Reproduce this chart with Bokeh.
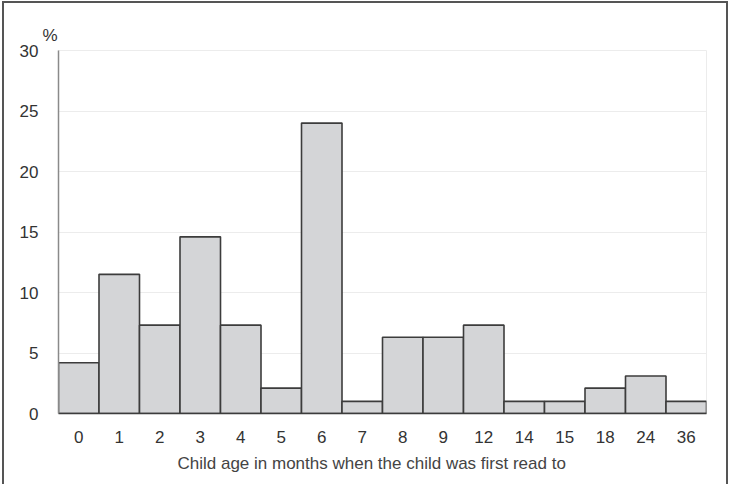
from bokeh.plotting import figure
from bokeh.models import FactorRange, Range1d, ColumnDataSource, FixedTicker, Title
from bokeh.embed import file_html
from bokeh.resources import INLINE

# Age (months) when the child was first read to, and share of children (%)
ages = ["0", "1", "2", "3", "4", "5", "6", "7", "8", "9", "12", "14", "15", "18", "24", "36"]
shares = [4.2, 11.5, 7.3, 14.6, 7.3, 2.1, 24.0, 1.0, 6.3, 6.3, 7.3, 1.0, 1.0, 2.1, 3.1, 1.0]
y_ticks = [0, 5, 10, 15, 20, 25, 30]
y_unit = "%"
x_title = "Child age in months when the child was first read to"

FONT = "Liberation Sans"
FS = "17px"

source = ColumnDataSource(data=dict(age=ages, share=shares))

p = figure(
    width=726, height=483,
    x_range=FactorRange(*ages, range_padding=0),
    y_range=Range1d(0, 30),
    output_backend="svg", toolbar_location=None,
    min_border_left=54, min_border_right=24,
    min_border_top=47, min_border_bottom=73,
)
p.styles = {
    "margin": "1px 0 0 2px",
    "border-left": "2px solid #555555",
    "border-right": "2px solid #555555",
    "border-top": "2px solid #555555",
}

p.vbar(x="age", top="share", width=1.0, source=source,
       fill_color="#d4d5d7", line_color="#3c3c3c", line_width=1.6)

# axes
p.yaxis.ticker = FixedTicker(ticks=y_ticks)
p.yaxis.axis_line_color = "#8a8a8a"
p.yaxis.axis_line_width = 1.5
p.xaxis.axis_line_color = "#3c3c3c"
p.xaxis.axis_line_width = 1.6
for ax in (p.xaxis, p.yaxis):
    ax.major_tick_line_color = None
    ax.minor_tick_line_color = None
    ax.major_label_text_font = FONT
    ax.major_label_text_font_size = FS
    ax.major_label_text_color = "#333333"
p.yaxis.major_label_standoff = 14
p.xaxis.major_label_standoff = 11

# grid and frame
p.xgrid.grid_line_color = None
p.ygrid.grid_line_color = "#ececec"
p.ygrid.grid_line_width = 1
p.outline_line_color = "#ececec"
p.background_fill_color = "white"
p.border_fill_color = "white"

# unit label over the value axis, and the category axis title
p.add_layout(Title(text=y_unit, align="left", offset=-16, standoff=12,
                   text_font=FONT, text_font_size=FS, text_font_style="normal",
                   text_color="#333333"), "above")
p.add_layout(Title(text=x_title, align="left", offset=119, standoff=13,
                   text_font=FONT, text_font_size=FS, text_font_style="normal",
                   text_color="#444444"), "below")

open("out.html", "w").write(file_html(p, INLINE))
